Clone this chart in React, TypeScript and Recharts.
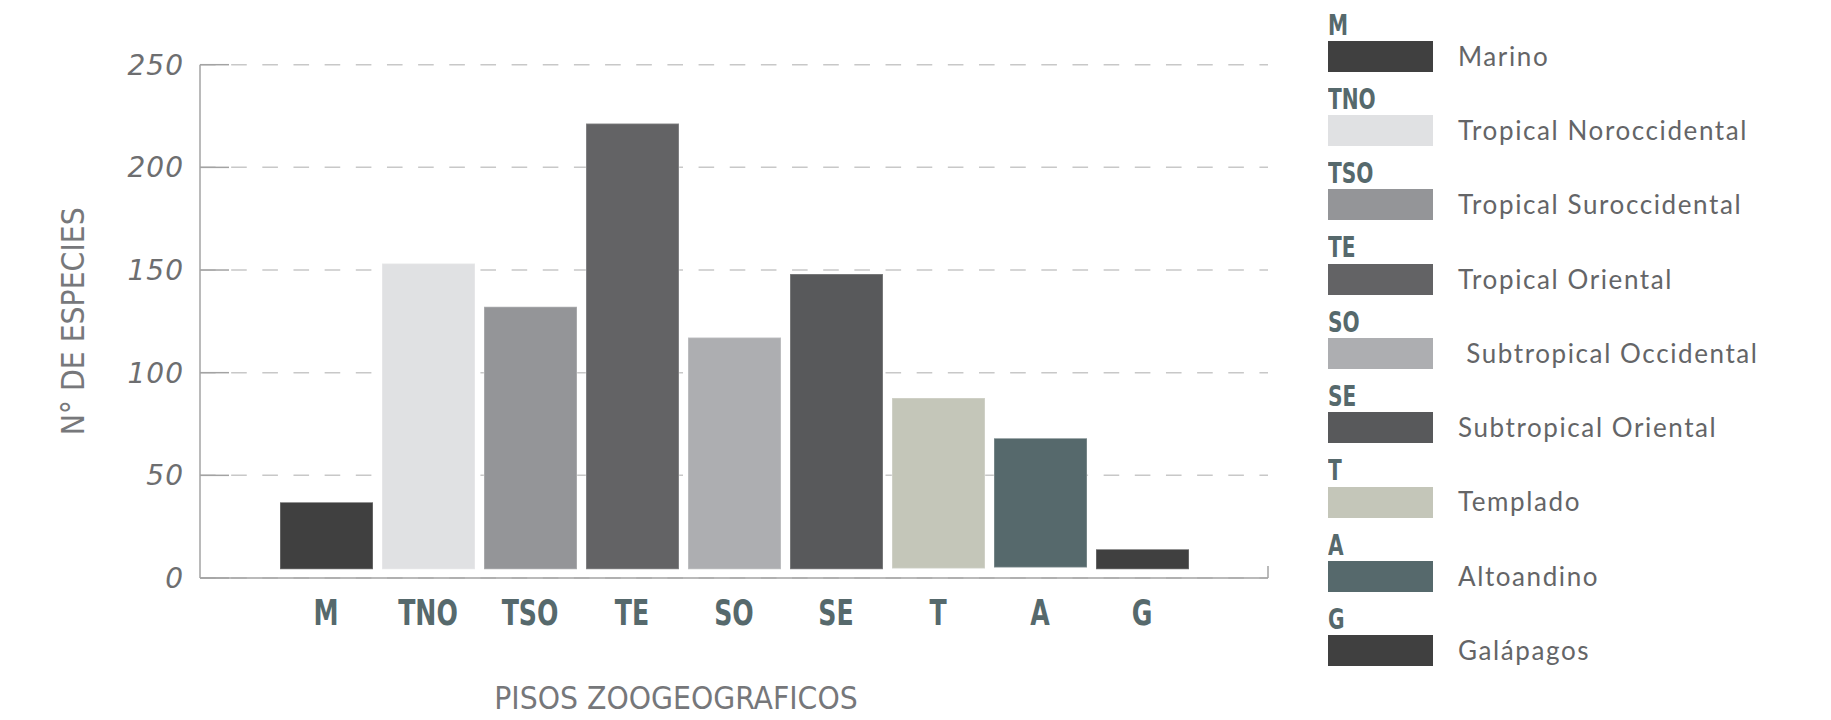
import React from 'react';
import { BarChart, Bar, XAxis, YAxis, CartesianGrid, Cell, Legend } from 'recharts';

const categories = ['M', 'TNO', 'TSO', 'TE', 'SO', 'SE', 'T', 'A', 'G'];
const speciesCounts = [36.9, 153.2, 132.1, 221.4, 117.1, 148.1, 87.7, 68.1, 14.0];
const barBases = [4.3, 4.3, 4.3, 4.3, 4.3, 4.3, 4.6, 5.1, 4.3];
const zoneNames = [
  'Marino',
  'Tropical Noroccidental',
  'Tropical Suroccidental',
  'Tropical Oriental',
  ' Subtropical Occidental',
  'Subtropical Oriental',
  'Templado',
  'Altoandino',
  'Galápagos',
];
const barColors = ['#404040', '#e0e1e3', '#949598', '#636365', '#adaeb1', '#58595b', '#c4c6b9', '#56696c', '#404040'];
const yTicks = [0, 50, 100, 150, 200, 250];

const data = categories.map((c, i) => ({ name: c, range: [barBases[i], speciesCounts[i]] }));

const NARROW = "'Liberation Sans Narrow', 'DejaVu Sans Condensed', 'Liberation Sans', sans-serif";
const LEGEND_FONT = "Lato, 'Open Sans', sans-serif";

const YTick = (props: any) => {
  const { x, y, payload } = props;
  return (
    <g>
      <line x1={x + 16} x2={x + 45} y1={y} y2={y} stroke="#a3a3a3" strokeWidth={1.5} />
      <text
        x={x}
        y={y}
        dy="0.36em"
        textAnchor="end"
        fill="#6d6e70"
        fontFamily="'DejaVu Sans', sans-serif"
        fontStyle="italic"
        fontSize={28}
        letterSpacing={1}
      >
        {payload.value}
      </text>
    </g>
  );
};

const XTick = (props: any) => {
  const { x, y, payload } = props;
  return (
    <text
      transform={`translate(${x},${y}) scale(0.8,1)`}
      dy="0.71em"
      textAnchor="middle"
      fill="#56696c"
      fontFamily={NARROW}
      fontWeight="bold"
      fontSize={35}
    >
      {payload.value}
    </text>
  );
};

const LegendContent = () => (
  <div style={{ position: 'relative', width: 480, height: 680 }}>
    {categories.map((c, i) => (
      <React.Fragment key={c}>
        <div
          style={{
            position: 'absolute',
            left: 0,
            top: 11.5 + 74.3 * i,
            fontFamily: NARROW,
            fontWeight: 'bold',
            fontSize: 28,
            lineHeight: '28px',
            color: '#56696c',
            whiteSpace: 'pre',
            transform: 'scaleX(0.8)',
            transformOrigin: 'left top',
          }}
        >
          {c}
        </div>
        <div
          style={{
            position: 'absolute',
            left: 0,
            top: 40.7 + 74.3 * i,
            width: 105,
            height: 31,
            background: barColors[i],
          }}
        />
        <div
          style={{
            position: 'absolute',
            left: 130,
            top: 42.6 + 74.3 * i,
            fontFamily: LEGEND_FONT,
            fontSize: 26,
            lineHeight: '26px',
            letterSpacing: '1.6px',
            color: '#646567',
            whiteSpace: 'pre',
          }}
        >
          {zoneNames[i]}
        </div>
      </React.Fragment>
    ))}
  </div>
);

export default function App() {
  return (
    <div style={{ position: 'absolute', left: 0, top: 0, width: 1831, height: 720, background: '#fff' }}>
      <BarChart
        width={1831}
        height={720}
        data={data}
        margin={{ top: 64.7, right: 563, bottom: 0, left: 80 }}
        barSize={93}
      >
        <CartesianGrid vertical={false} stroke="#c8c8c8" strokeWidth={1.5} strokeDasharray="15.6 15.56" />
        <XAxis
          dataKey="name"
          height={142}
          padding={{ left: 75, right: 75 }}
          axisLine={{ stroke: '#a3a3a3', strokeWidth: 1.5 }}
          tickLine={false}
          tickSize={0}
          tickMargin={22}
          interval={0}
          tick={<XTick />}
          label={{
            content: (p: any) => {
              const vb = p.viewBox || { x: 200, y: 578 };
              return (
                <text
                  x={vb.x + 476}
                  y={vb.y + 120}
                  dy="0.35em"
                  textAnchor="middle"
                  fill="#76777a"
                  fontFamily={NARROW}
                  fontSize={31.5}
                >
                  PISOS ZOOGEOGRAFICOS
                </text>
              );
            },
          }}
        />
        <XAxis
          xAxisId="edge"
          type="number"
          domain={[0, categories.length - 1]}
          ticks={[categories.length - 1]}
          orientation="bottom"
          mirror
          height={1}
          axisLine={false}
          tickLine={{ stroke: '#a3a3a3', strokeWidth: 1.5 }}
          tickSize={12}
          tickFormatter={() => ''}
        />
        <YAxis
          width={120}
          domain={[0, 250]}
          ticks={yTicks}
          interval={0}
          axisLine={{ stroke: '#a3a3a3', strokeWidth: 1.5 }}
          tickLine={false}
          tickSize={0}
          tickMargin={16}
          tick={<YTick />}
          label={{
            content: (p: any) => {
              const vb = p.viewBox || { x: 80, y: 64.7, height: 513 };
              const cx = vb.x - 7;
              const cy = vb.y + vb.height / 2;
              return (
                <text
                  x={cx}
                  y={cy}
                  dy="0.35em"
                  textAnchor="middle"
                  transform={`rotate(-90 ${cx} ${cy})`}
                  fill="#77787b"
                  fontFamily={NARROW}
                  fontSize={31.5}
                >
                  N° DE ESPECIES
                </text>
              );
            },
          }}
        />
        <Legend
          layout="horizontal"
          verticalAlign="middle"
          align="center"
          content={<LegendContent />}
          wrapperStyle={{ position: 'absolute', left: 1328, top: 0, width: 480, height: 680 }}
        />
        <Bar dataKey="range" isAnimationActive={false} stroke="#ffffff" strokeOpacity={0.25} strokeWidth={1.5}>
          {data.map((d, i) => (
            <Cell key={d.name} fill={barColors[i]} />
          ))}
        </Bar>
      </BarChart>
    </div>
  );
}
